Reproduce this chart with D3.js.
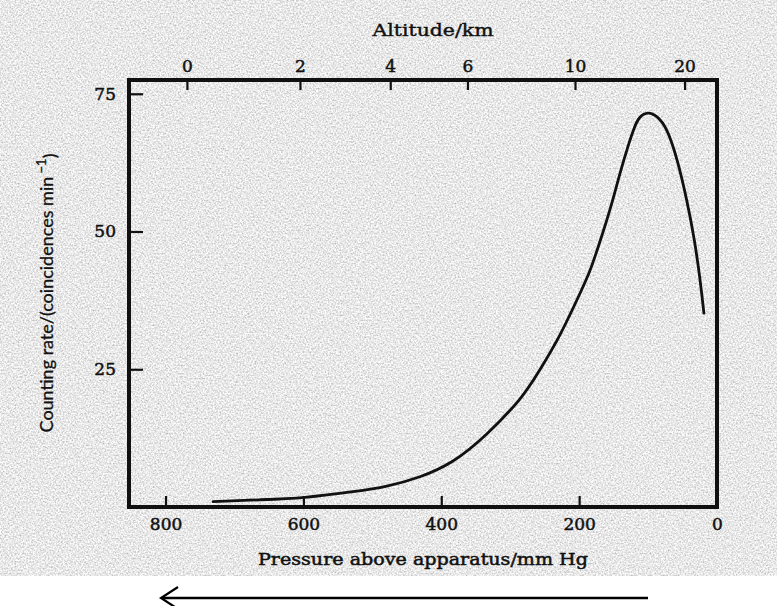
<!DOCTYPE html>
<html>
<head>
<meta charset="utf-8">
<script src="https://cdn.jsdelivr.net/npm/d3@7"></script>
<style>
  html, body { margin: 0; padding: 0; background: #ffffff; }
  svg { display: block; }
</style>
</head>
<body>
<svg id="chart" width="777" height="606"></svg>
<script>
// ---- data ----
const pressureTicks = [800, 600, 400, 200, 0];          // mm Hg (bottom axis)
const rateTicks = [25, 50, 75];                           // coincidences per minute
const altitudeKm = [0, 2, 4, 6, 10, 20];                  // top axis labels
const altitudePressure = [769, 605, 474, 362, 206, 47];   // pressure where each altitude tick sits
const curvePressure = [731, 665, 598, 528, 479, 431, 383, 334, 286, 257, 228, 199, 184, 170, 155, 141, 129, 120, 112, 100, 87, 73, 58, 44, 33, 25, 19];
const curveRate     = [0.96, 1.3, 1.76, 2.78, 3.81, 5.5, 8.35, 13.25, 19.6, 24.9, 31.2, 38.7, 43.0, 48.1, 54.1, 60.4, 65.5, 68.8, 70.7, 71.5, 70.8, 68.4, 63.0, 55.7, 48.5, 41.6, 35.2];

const svg = d3.select("#chart");
const W = 777, H = 606;
const plotL = 129, plotR = 717, plotT = 80, plotB = 507;

// ---- background: grey scanned-paper texture, white strip at bottom ----
const defs = svg.append("defs");
const f = defs.append("filter").attr("id", "paper")
  .attr("filterUnits", "userSpaceOnUse")
  .attr("x", 0).attr("y", 0).attr("width", W).attr("height", 576);
f.append("feTurbulence").attr("type", "fractalNoise").attr("baseFrequency", 0.6)
  .attr("numOctaves", 2).attr("seed", 7).attr("result", "t");
f.append("feColorMatrix").attr("type", "matrix")
  .attr("values", "0.9 0 0 0 0.36  0.9 0 0 0 0.36  0.9 0 0 0 0.36  0 0 0 0 1");

svg.append("rect").attr("x", 0).attr("y", 0).attr("width", W).attr("height", H).attr("fill", "#ffffff");
svg.append("rect").attr("x", 0).attr("y", 0).attr("width", W).attr("height", 576)
  .attr("fill", "#d0d0d0").attr("filter", "url(#paper)");

// ---- scales ----
const x = d3.scaleLinear().domain([853, 0]).range([plotL, plotR]);
const y = d3.scaleLinear().domain([0, 77.5]).range([plotB, plotT]);

const serif = "'DejaVu Serif', 'Liberation Serif', serif";
const ink = "#111";

function styleAxis(g) {
  g.select(".domain").remove();
  g.selectAll(".tick line").attr("stroke", ink).attr("stroke-width", 2.2);
  g.selectAll(".tick text").attr("fill", ink).attr("stroke", ink).attr("stroke-width", 0.5)
    .style("font-family", serif).style("font-size", "17px");
}

// bottom axis (pressure)
svg.append("g").attr("transform", `translate(0,${plotB})`)
  .call(d3.axisBottom(x).tickValues(pressureTicks).tickSizeInner(-11).tickSizeOuter(0).tickPadding(11).tickFormat(d3.format("d")))
  .call(styleAxis);

// top axis (altitude)
svg.append("g").attr("transform", `translate(0,${plotT})`)
  .call(d3.axisTop(x).tickValues(altitudePressure).tickSizeInner(-10).tickSizeOuter(0).tickPadding(8)
    .tickFormat((d, i) => altitudeKm[i]))
  .call(styleAxis);

// left axis (counting rate)
svg.append("g").attr("transform", `translate(${plotL},0)`)
  .call(d3.axisLeft(y).tickValues(rateTicks).tickSizeInner(-14).tickSizeOuter(0).tickPadding(13))
  .call(styleAxis);

// frame
svg.append("rect").attr("x", plotL).attr("y", plotT).attr("width", plotR - plotL).attr("height", plotB - plotT)
  .attr("fill", "none").attr("stroke", ink).attr("stroke-width", 4);

// curve
const pts = curvePressure.map((p, i) => [p, curveRate[i]]);
svg.append("path").datum(pts)
  .attr("fill", "none").attr("stroke", ink).attr("stroke-width", 2.8).attr("stroke-linecap", "round")
  .attr("d", d3.line().x(d => x(d[0])).y(d => y(d[1])).curve(d3.curveNatural));

// titles
svg.append("text").attr("x", 433).attr("y", 36).attr("text-anchor", "middle")
  .attr("textLength", 121).attr("lengthAdjust", "spacingAndGlyphs")
  .attr("stroke", ink).attr("stroke-width", 0.4)
  .style("font-family", serif).style("font-size", "16px").attr("fill", ink)
  .text("Altitude/km");

svg.append("text").attr("x", 423).attr("y", 565).attr("text-anchor", "middle")
  .attr("textLength", 330).attr("lengthAdjust", "spacingAndGlyphs")
  .attr("stroke", ink).attr("stroke-width", 0.5)
  .style("font-family", serif).style("font-size", "17px").attr("fill", ink)
  .text("Pressure above apparatus/mm Hg");

const yt = svg.append("text").attr("transform", "translate(53,293) rotate(-90)")
  .attr("text-anchor", "middle").attr("stroke", ink).attr("stroke-width", 0.3)
  .style("font-family", "Lato, 'Open Sans', sans-serif").style("font-size", "18px").attr("fill", ink);
yt.append("tspan").text("Counting rate/(coincidences min");
yt.append("tspan").attr("dy", "-0.55em").style("font-size", "13px").text(" \u22121");
yt.append("tspan").attr("dy", "0.55em").text(")");

// arrow (direction of increasing altitude)
svg.append("line").attr("x1", 162).attr("y1", 598).attr("x2", 648).attr("y2", 598)
  .attr("stroke", "#000").attr("stroke-width", 2.6);
svg.append("path").attr("d", "M178,587 L161,598 L178,609")
  .attr("fill", "none").attr("stroke", "#000").attr("stroke-width", 2.2);
</script>
</body>
</html>
